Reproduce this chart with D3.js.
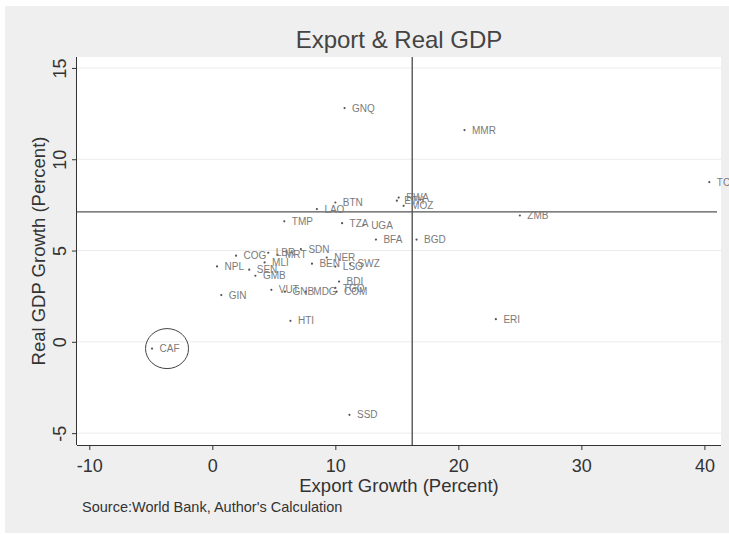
<!DOCTYPE html>
<html>
<head>
<meta charset="utf-8">
<script src="https://cdn.jsdelivr.net/npm/d3@7"></script>
<style>
  html, body { margin: 0; padding: 0; background: #fff; }
  svg { display: block; font-family: "Liberation Sans", Arial, sans-serif; }
</style>
</head>
<body>
<svg id="chart" width="729" height="534"></svg>
<script>
// Country codes with export growth (x) and real GDP growth (y), in percent
const countries = ["GNQ","MMR","TCD","ETH","RWA","MOZ","BTN","LAO","ZMB","TMP",
  "TZA","UGA","BFA","BGD","SDN","LBR","COG","MRT","NER","MLI",
  "BEN","SWZ","LSO","NPL","SEN","GMB","BDI","VUT","TGO","COM",
  "GNB","MDG","GIN","HTI","ERI","CAF","SSD"];
const exportGrowth = [10.75, 20.5, 40.4, 15.0, 15.15, 15.55, 10.0, 8.5, 25.0, 5.85,
  10.55, 12.3, 13.3, 16.6, 7.2, 4.55, 1.93, 5.3, 9.3, 4.25,
  8.1, 11.2, 10.0, 0.38, 3.0, 3.5, 10.3, 4.8, 10.0, 10.1,
  5.9, 7.6, 0.73, 6.35, 23.05, -4.9, 11.15];
const gdpGrowth = [12.8, 11.6, 8.75, 7.73, 7.9, 7.45, 7.63, 7.27, 6.92, 6.6,
  6.5, 6.4, 5.6, 5.6, 5.08, 4.88, 4.72, 4.77, 4.62, 4.35,
  4.28, 4.27, 4.12, 4.13, 3.95, 3.62, 3.3, 2.85, 2.95, 2.75,
  2.75, 2.75, 2.56, 1.15, 1.24, -0.37, -4.0];

// Axis ticks and reference lines (sample means)
const xTicks = [-10, 0, 10, 20, 30, 40];
const yTicks = [-5, 0, 5, 10, 15];
const meanExport = 16.25;
const meanGdp = 7.12;
const highlighted = "CAF";

const title = "Export & Real GDP";
const xTitle = "Export Growth (Percent)";
const yTitle = "Real GDP Growth (Percent)";
const note = "Source:World Bank, Author's Calculation";

const data = countries.map((c, i) => ({ code: c, x: exportGrowth[i], y: gdpGrowth[i] }));

const svg = d3.select("#chart");
const plot = { left: 77, right: 721, top: 57, bottom: 445 };

const x = d3.scaleLinear().domain([-11.0, 41.35]).range([plot.left, plot.right]);
const y = d3.scaleLinear().domain([-5.65, 15.6]).range([plot.bottom, plot.top]);
const fmt = d => String(d); // plain hyphen for negatives

// Outer graph region
svg.append("rect").attr("x", 5).attr("y", 6).attr("width", 724).attr("height", 527)
  .attr("fill", "#efefef");

// Plot region
svg.append("rect").attr("x", plot.left).attr("y", plot.top)
  .attr("width", plot.right - plot.left).attr("height", plot.bottom - plot.top)
  .attr("fill", "#ffffff");

// Horizontal grid lines
svg.append("g").selectAll("line").data(yTicks).join("line")
  .attr("x1", plot.left).attr("x2", plot.right)
  .attr("y1", d => y(d)).attr("y2", d => y(d))
  .attr("stroke", "#ebebeb").attr("stroke-width", 1);

// Reference lines at the means
svg.append("line")
  .attr("x1", x(meanExport)).attr("x2", x(meanExport))
  .attr("y1", plot.top).attr("y2", plot.bottom)
  .attr("stroke", "#555").attr("stroke-width", 1.4);
svg.append("line")
  .attr("x1", plot.left).attr("x2", plot.right - 4)
  .attr("y1", y(meanGdp)).attr("y2", y(meanGdp))
  .attr("stroke", "#555").attr("stroke-width", 1.4);

// Markers and country labels
const pts = svg.append("g");
pts.selectAll("circle").data(data).join("circle")
  .attr("cx", d => x(d.x)).attr("cy", d => y(d.y)).attr("r", 1.1)
  .attr("fill", "#555");
pts.selectAll("text").data(data).join("text")
  .attr("x", d => x(d.x) + 7.5).attr("y", d => y(d.y) + 3.6)
  .attr("font-size", 10).attr("fill", "#7a7a7a")
  .text(d => d.code);

// Circle around the highlighted country
const hl = data.find(d => d.code === highlighted);
svg.append("ellipse")
  .attr("cx", x(hl.x) + 15).attr("cy", y(hl.y)).attr("rx", 21.5).attr("ry", 20)
  .attr("fill", "none").attr("stroke", "#444").attr("stroke-width", 1);

// X axis
const xAxis = svg.append("g").attr("transform", `translate(0,${plot.bottom})`)
  .call(d3.axisBottom(x).tickValues(xTicks).tickSize(5).tickPadding(9).tickFormat(fmt));
xAxis.select(".domain").attr("stroke", "#333").attr("d", `M${plot.left},0.5H${plot.right}`);
xAxis.selectAll(".tick line").attr("stroke", "#333");
xAxis.selectAll(".tick text").attr("font-size", 18).attr("fill", "#333")
  .attr("font-family", "Liberation Sans, Arial, sans-serif");

// Y axis with rotated tick labels
const yAxis = svg.append("g").attr("transform", `translate(${plot.left},0)`)
  .call(d3.axisLeft(y).tickValues(yTicks).tickSize(5).tickFormat(fmt));
yAxis.select(".domain").attr("stroke", "#333").attr("d", `M-0.5,${plot.top}V${plot.bottom}`);
yAxis.selectAll(".tick line").attr("stroke", "#333");
yAxis.selectAll(".tick text")
  .attr("font-size", 18).attr("fill", "#333")
  .attr("font-family", "Liberation Sans, Arial, sans-serif")
  .attr("x", null).attr("dy", null)
  .attr("text-anchor", "middle")
  .attr("transform", "translate(-11,0) rotate(-90)");

// Titles
svg.append("text").attr("x", (plot.left + plot.right) / 2).attr("y", 48)
  .attr("text-anchor", "middle").attr("font-size", 24).attr("fill", "#444")
  .text(title);
svg.append("text").attr("x", (plot.left + plot.right) / 2).attr("y", 492)
  .attr("text-anchor", "middle").attr("font-size", 18.5).attr("fill", "#333")
  .text(xTitle);
svg.append("text")
  .attr("transform", `translate(45,${(plot.top + plot.bottom) / 2}) rotate(-90)`)
  .attr("text-anchor", "middle").attr("font-size", 18.5).attr("fill", "#333")
  .text(yTitle);
svg.append("text").attr("x", 82).attr("y", 512)
  .attr("font-size", 14.5).attr("fill", "#333")
  .text(note);
</script>
</body>
</html>
